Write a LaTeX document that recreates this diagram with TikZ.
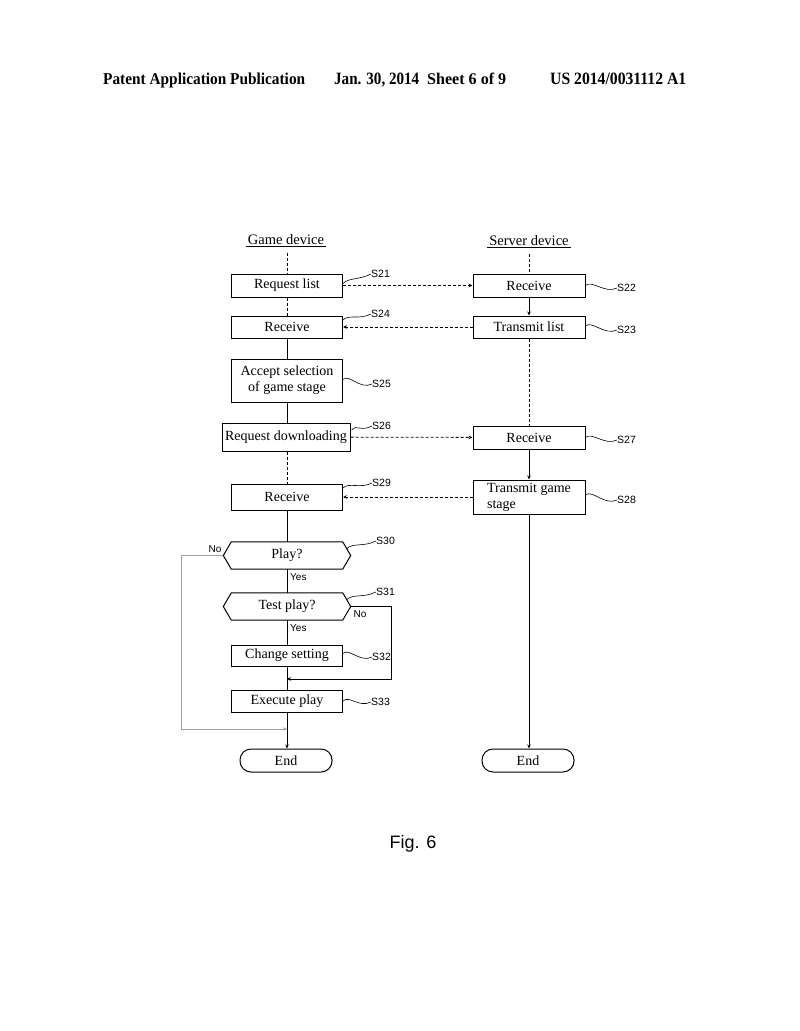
\documentclass[tikz,border=0pt]{standalone}
\usepackage{fontspec}
\setmainfont{Liberation Serif}
\setsansfont{Liberation Sans}
\usetikzlibrary{arrows.meta,calc}
\tikzset{
  box/.style={draw, line width=1pt, minimum width=111pt, minimum height=23pt, inner sep=2pt,
    font=\fontsize{14}{16}\selectfont, align=center},
  hexbox/.style={draw=none, minimum width=111pt, minimum height=27pt, inner sep=2pt,
    font=\fontsize{14}{16}\selectfont},
  hexline/.style={line width=1pt, line join=miter},
  endbox/.style={draw, line width=1pt, rounded corners=11pt, minimum width=92pt, minimum height=23pt,
    inner sep=2pt, font=\fontsize{14}{16}\selectfont},
  lab/.style={font=\sffamily\fontsize{10.5}{12}\selectfont, inner sep=0pt, anchor=west},
  yn/.style={font=\sffamily\fontsize{10}{12}\selectfont, inner sep=0pt},
  head/.style={font=\fontsize{14.5}{16}\selectfont, inner sep=0pt},
  hdr/.style={inner sep=0pt, anchor=base west},
  sq/.style={line width=0.6pt},
  solidc/.style={line width=0.8pt},
  dashc/.style={line width=0.8pt, dash pattern=on 3pt off 2pt},
  tip/.style={-{Stealth[length=4pt,width=3.5pt]}},
  nolines/.style={line width=0.7pt, draw=gray!75},
}
\newcommand\sqg[2]{\draw[sq] (#1) .. controls +(6,-6) and +(-12,6) .. (#2);}
\begin{document}
\begin{tikzpicture}[x=1pt,y=-1pt]
\useasboundingbox (0,0) rectangle (800,1031);

% page header
\node[hdr] (h1) at (103,84) {\resizebox{202pt}{11.5pt}{\bfseries Patent Application Publication}};
\node[hdr] (h2) at (334,84) {\resizebox{85pt}{11.5pt}{\bfseries Jan. 30, 2014}};
\node[hdr] (h3) at (427,84) {\resizebox{79pt}{11.5pt}{\bfseries Sheet 6 of 9}};
\node[hdr] (h4) at (550,84) {\resizebox{136pt}{11.5pt}{\bfseries US 2014/0031112 A1}};

% column headers
\node[head] (gh) at (286,241) {\underline{\,Game device\,}};
\node[head] (sh) at (529,242) {\underline{\,Server device\,}};
\coordinate (ghb) at (287,253);
\coordinate (shb) at (529,254);

% game device column
\node[box] (req) at (287,285.5) {Request list};
\node[box, minimum height=22pt] (rcvA) at (287,327) {Receive};
\node[box, minimum height=43pt] (acc) at (287,380.5) {Accept selection\\of game stage};
\node[box, minimum width=128pt, minimum height=28pt] (dl) at (286,437) {Request downloading};
\node[box, minimum height=26pt] (rcvB) at (287,497) {Receive};
\node[hexbox] (play) at (287,555.5) {Play?};
\node[hexbox] (test) at (287,606.5) {Test play?};
\node[box, minimum height=21pt] (chg) at (287,655.5) {Change setting};
\node[box, minimum height=22pt] (exe) at (287,701) {Execute play};
\node[endbox] (end1) at (286,760.5) {End};

% hexagons
\coordinate (playL) at ($(play.west)+(-8,0)$);
\coordinate (playR) at ($(play.east)+(8,0)$);
\coordinate (testL) at ($(test.west)+(-8,0)$);
\coordinate (testR) at ($(test.east)+(8,0)$);
\draw[hexline] (play.north west) -- (play.north east) -- (playR) -- (play.south east) -- (play.south west) -- (playL) -- cycle;
\draw[hexline] (test.north west) -- (test.north east) -- (testR) -- (test.south east) -- (test.south west) -- (testL) -- cycle;

% server column
\node[box, minimum width=112pt] (rcv1) at (529,285.5) {Receive};
\node[box, minimum width=112pt, minimum height=22pt] (tl) at (529,327) {Transmit list};
\node[box, minimum width=112pt] (rcv2) at (529,437.5) {Receive};
\node[box, minimum width=112pt, minimum height=34pt, align=left] (tgs) at (529,497) {Transmit game\\stage\hspace*{52pt}};
\node[endbox] (end2) at (528,760.5) {End};

% vertical connectors, game side
\draw[dashc] (ghb) -- (req);
\draw[dashc] (req) -- (rcvA);
\draw[solidc] (rcvA) -- (acc);
\draw[solidc] (acc) -- (dl.north -| acc);
\draw[dashc] (dl.south -| rcvB) -- (rcvB);
\draw[solidc] (rcvB) -- (play);
\draw[solidc] (play) -- (test);
\draw[solidc] (test) -- (chg);
\draw[solidc] (chg) -- (exe);
\draw[solidc, tip] (exe) -- (exe |- end1.north);

% vertical connectors, server side
\draw[dashc] (shb) -- (rcv1);
\draw[solidc, tip] (rcv1) -- (tl);
\draw[dashc] (tl) -- (rcv2);
\draw[solidc, tip] (rcv2) -- (tgs);
\draw[solidc, tip] (tgs) -- (tgs |- end2.north);

% horizontal messages
\draw[dashc, tip] (req) -- (rcv1);
\draw[dashc, tip] (tl) -- (rcvA);
\draw[dashc, tip] (dl) -- (rcv2);
\draw[dashc, tip] (tgs) -- (rcvB);

% branch lines
\coordinate (m1) at (287,679);
\coordinate (m2) at (287,729);
\draw[solidc, tip] (testR) -- ++(41,0) |- (m1);
\draw[nolines, tip] (playL) -- ++(-42,0) |- (m2);

\node[yn] (no1) at (215,549) {No};
\node[yn, anchor=west] (yes1) at (290,577) {Yes};
\node[yn] (no2) at (360,614) {No};
\node[yn, anchor=west] (yes2) at (290,628) {Yes};

% step labels
\node[lab] (s21) at (371,274) {S21};
\node[lab] (s24) at (371,314) {S24};
\node[lab] (s25) at (372,384) {S25};
\node[lab] (s26) at (372,426) {S26};
\node[lab] (s29) at (372,483) {S29};
\node[lab] (s30) at (376,541) {S30};
\node[lab] (s31) at (376,592) {S31};
\node[lab] (s32) at (372,657) {S32};
\node[lab] (s33) at (371,702) {S33};
\node[lab] (s22) at (617,288) {S22};
\node[lab] (s23) at (617,330) {S23};
\node[lab] (s27) at (617,440) {S27};
\node[lab] (s28) at (617,500) {S28};

\coordinate (q21) at ($(req.east)+(0,-2)$);
\coordinate (q24) at ($(rcvA.east)+(0,-7)$);
\coordinate (q25) at ($(acc.east)+(0,-1)$);
\coordinate (q26) at ($(dl.east)+(1,-7)$);
\coordinate (q29) at ($(rcvB.east)+(0,-9)$);
\coordinate (q30) at ($(play.north east)!0.5!(playR)$);
\coordinate (q31) at ($(test.north east)!0.5!(testR)$);
\coordinate (q32) at ($(chg.east)+(0,-2)$);
\coordinate (q33) at ($(exe.east)+(0,0)$);
\coordinate (q22) at ($(rcv1.east)+(0,0)$);
\coordinate (q23) at ($(tl.east)+(0,-1)$);
\coordinate (q27) at ($(rcv2.east)+(0,0)$);
\coordinate (q28) at ($(tgs.east)+(0,-2)$);
\sqg{q21}{s21.west}
\sqg{q24}{s24.west}
\sqg{q25}{s25.west}
\sqg{q26}{s26.west}
\sqg{q29}{s29.west}
\sqg{q30}{s30.west}
\sqg{q31}{s31.west}
\sqg{q32}{s32.west}
\sqg{q33}{s33.west}
\sqg{q22}{s22.west}
\sqg{q23}{s23.west}
\sqg{q27}{s27.west}
\sqg{q28}{s28.west}

% figure caption
\node[font=\sffamily\fontsize{18}{20}\selectfont, inner sep=0pt] (fig) at (413,844) {Fig. 6};
\end{tikzpicture}
\end{document}
